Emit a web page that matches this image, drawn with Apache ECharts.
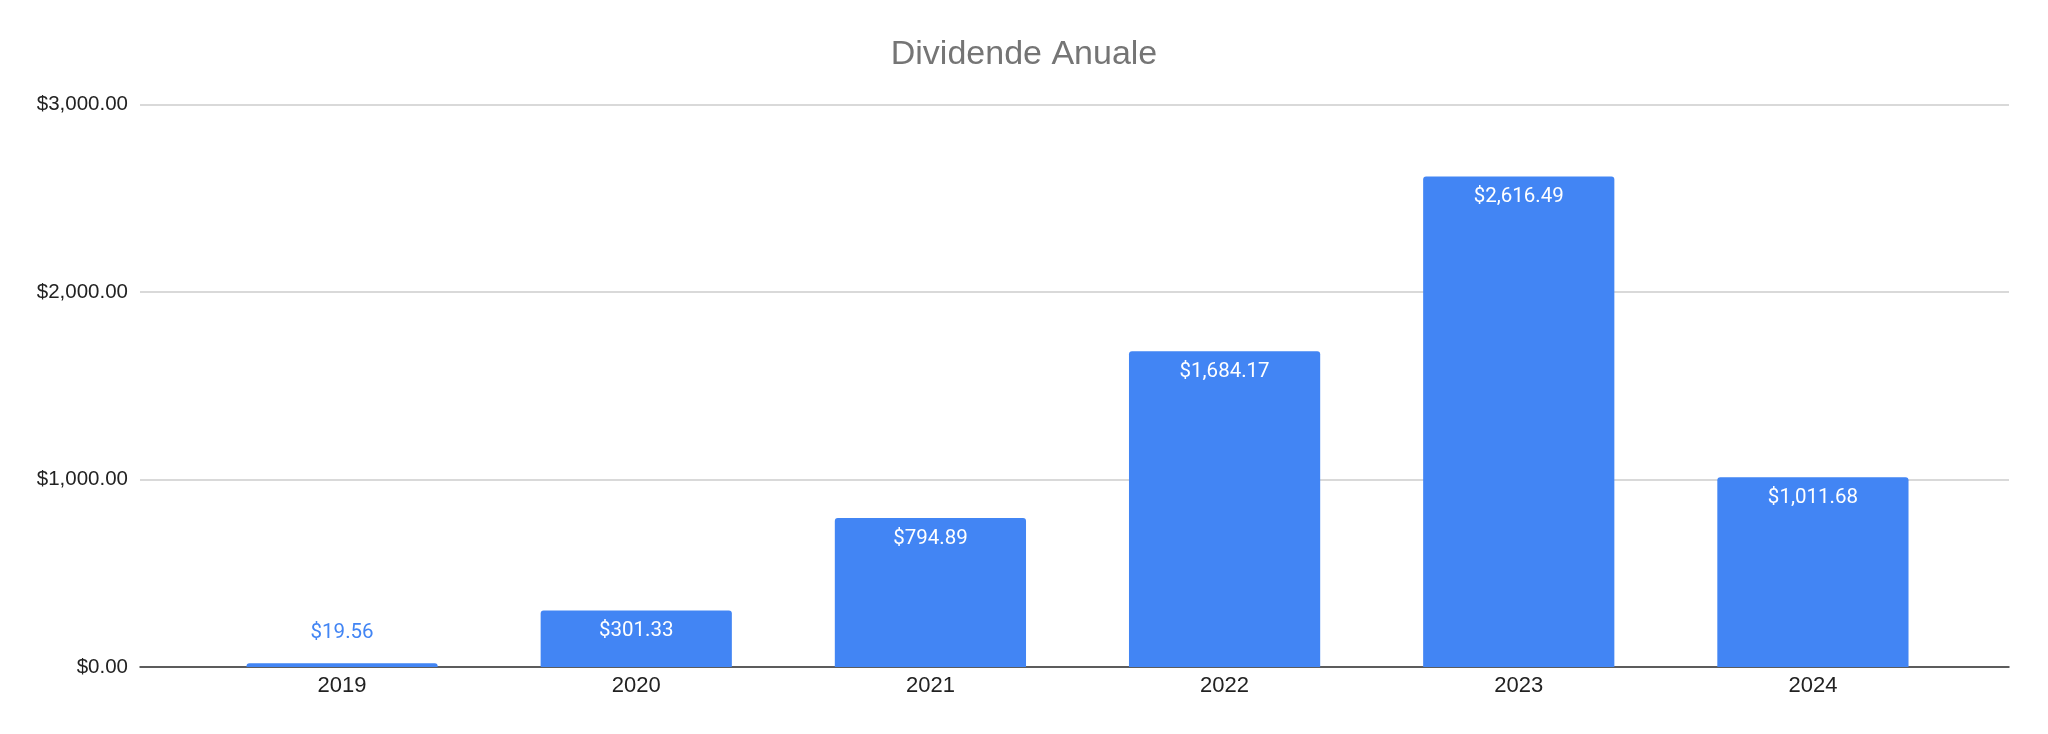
<!DOCTYPE html>
<html>
<head>
<meta charset="utf-8">
<title>Dividende Anuale</title>
<script src="https://cdn.jsdelivr.net/npm/echarts@6/dist/echarts.min.js"></script>
<style>
  html, body { margin: 0; padding: 0; background: #fff; }
  #chart { width: 2048px; height: 734px; }
</style>
</head>
<body>
<div id="chart"></div>
<script>
// date
var years = ['2019', '2020', '2021', '2022', '2023', '2024'];
var dividende = [19.56, 301.33, 794.89, 1684.17, 2616.49, 1011.68];
var yTicks = [0, 1000, 2000, 3000];

var blue = '#4285F4';

// $1,234.56
function money(v) {
    return '$' + Number(v).toLocaleString('en-US', { minimumFractionDigits: 2, maximumFractionDigits: 2 });
}

/** --------bare mici: eticheta deasupra ------ */
var barData = [];
for (var i = 0; i < dividende.length; i++) {
    var item = { value: dividende[i] };
    if (dividende[i] < 150) {
        item.label = { position: 'top', distance: 20, color: blue };
    }
    barData.push(item);
}

var yMin = yTicks[0];
var yMax = yTicks[yTicks.length - 1];
var yStep = yTicks[1] - yTicks[0];

var chart = echarts.init(document.getElementById('chart'));
var option = {
    animation: false,
    title: {
        text: 'Dividende Anuale',
        left: 'center',
        top: 33,
        textStyle: {
            fontFamily: 'Liberation Sans',
            fontSize: 34,
            fontWeight: 'normal',
            color: '#757575'
        }
    },
    // grid 0 = cadru (linii, axa Y), grid 1 = barele (mai ingust, ca in Sheets)
    grid: [
        { left: 140, right: 39, top: 104.5, bottom: 67 },
        { left: 195, right: 88, top: 104.5, bottom: 67 }
    ],
    xAxis: [{
        gridIndex: 0,
        type: 'category',
        data: [''],
        axisLine: { show: true, lineStyle: { color: '#333', width: 1.5 } },
        axisTick: { show: false },
        axisLabel: { show: false }
    }, {
        gridIndex: 1,
        type: 'category',
        data: years,
        axisLine: { show: false },
        axisTick: { show: false },
        axisLabel: {
            fontFamily: 'Liberation Sans',
            fontSize: 22,
            color: '#222',
            margin: 8
        }
    }],
    yAxis: [{
        gridIndex: 0,
        type: 'value',
        min: yMin,
        max: yMax,
        interval: yStep,
        axisLine: { show: false },
        axisTick: { show: false },
        splitLine: { lineStyle: { color: '#cccccc', width: 1.5 } },
        axisLabel: {
            fontFamily: 'Liberation Sans',
            fontSize: 20.5,
            color: '#222',
            margin: 12,
            formatter: money
        }
    }, {
        gridIndex: 1,
        type: 'value',
        min: yMin,
        max: yMax,
        interval: yStep,
        show: false
    }],
    series: [{
        type: 'bar',
        xAxisIndex: 1,
        yAxisIndex: 1,
        data: barData,
        barCategoryGap: '35%',
        itemStyle: { color: blue, borderRadius: [3, 3, 0, 0] },
        label: {
            show: true,
            position: 'insideTop',
            distance: 10,
            fontFamily: 'Roboto',
            fontSize: 20.5,
            color: '#fff',
            formatter: function (p) { return money(p.value); }
        }
    }]
};
chart.setOption(option);

window.onresize = function () {
    chart.resize();
}
</script>
</body>
</html>
